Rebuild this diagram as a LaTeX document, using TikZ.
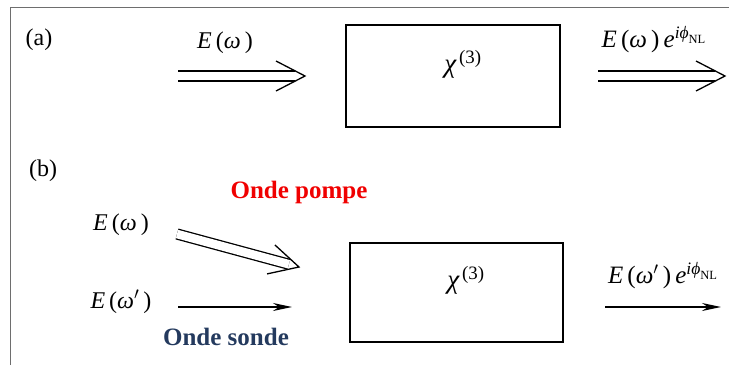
\documentclass[tikz,border=0pt]{standalone}
\usepackage{amsmath}
\usepackage{fontspec}
\setmainfont{Liberation Serif}
\usetikzlibrary{arrows.meta, decorations.markings}
\definecolor{pompe}{RGB}{240,0,0}
\definecolor{sonde}{RGB}{36,58,94}
\definecolor{cadre}{RGB}{110,110,110}

\newcommand\Eom{\textit{E}\,(\textit{ω}\,)}
\newcommand\Eomp{\textit{E}\,(\textit{ω}$'$\,)}
\newcommand\phase{$\,\textit{e}^{\textit{iϕ}_{\text{NL}}}$}
\newcommand\chiT{{\fontsize{27}{30}\selectfont$\textit{χ}^{\,\text{(3)}}$}}

\begin{document}
\begin{tikzpicture}[
  x=1pt, y=-1pt,
  font=\fontsize{24}{28}\selectfont,
  lbl/.style={inner sep=0pt, anchor=center},
  cristal/.style={draw, line width=1.4pt, inner sep=0pt},
  dbl/.style={
    preaction={draw, double, double distance=8.6pt, line width=1.3pt, shorten >=10.5pt},
    postaction={decorate, decoration={markings, mark=at position 1 with
      {\draw[line width=1.3pt, line join=miter] (-29pt,15pt) -- (0,0) -- (-29pt,-15pt);}}}},
  sgl/.style={line width=1.2pt, -{Stealth[length=19pt, width=8pt, inset=6pt]}},
]
\useasboundingbox (0,0) rectangle (729,365);
\draw[cadre, line width=1pt] (10,365) -- (10,7.5) -- (729,7.5);

% (a)
\node[lbl] (la) at (39,40) {(a)};
\node[cristal, minimum width=214pt, minimum height=102pt] (boxa) at (453,76) {};
\node[lbl] (chia) at (463,64) {\chiT};
\coordinate (ina) at (178,76);
\coordinate (ina2) at (305,76);
\coordinate (outa) at (598,76);
\coordinate (outa2) at (725,76);
\node[lbl] (ea) at (225,43) {\Eom};
\node[lbl, font=\fontsize{25}{28}\selectfont] (pha) at (654,40) {\Eom\phase};
\path[dbl] (ina) -- (ina2);
\path[dbl] (outa) -- (outa2);

% (b)
\node[lbl] (lb) at (43,171) {(b)};
\node[lbl, font=\fontsize{25}{28}\selectfont\bfseries, text=pompe] (pompe) at (299,192) {Onde pompe};
\node[lbl, font=\fontsize{25}{28}\selectfont\bfseries, text=sonde] (sonde) at (226,337) {Onde sonde};
\node[cristal, minimum width=213pt, minimum height=99pt] (boxb) at (456.5,292.5) {};
\node[lbl] (chib) at (466,280) {\chiT};
\node[lbl] (eb) at (121,225) {\Eom};
\node[lbl] (ebp) at (121,302) {\Eomp};
\node[lbl, font=\fontsize{25}{28}\selectfont] (phb) at (663,276) {\Eomp\phase};
\coordinate (inb) at (177,234);
\coordinate (inb2) at (299,267);
\coordinate (inp) at (178,307);
\coordinate (inp2) at (292,307);
\coordinate (outb) at (605,307);
\coordinate (outb2) at (721,307);
\path[dbl] (inb) -- (inb2);
\draw[sgl] (inp) -- (inp2);
\draw[sgl] (outb) -- (outb2);
\end{tikzpicture}
\end{document}
